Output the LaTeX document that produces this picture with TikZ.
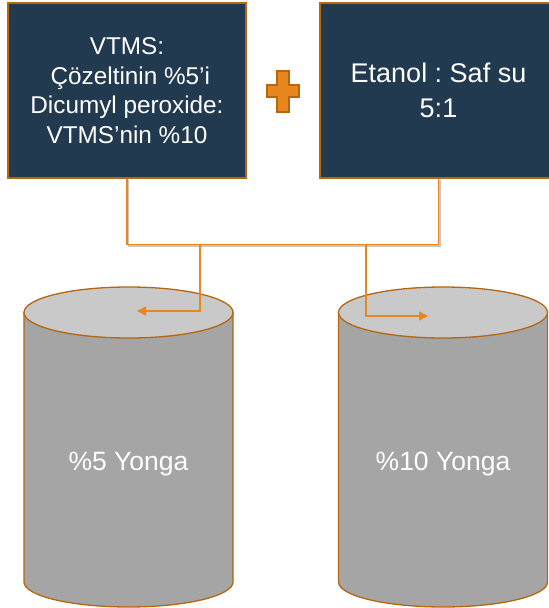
\documentclass[tikz,border=0pt]{standalone}
\usepackage{fontspec}
\setmainfont{Liberation Sans}
\usetikzlibrary{arrows.meta}
\definecolor{navy}{HTML}{213A4F}
\definecolor{rim}{HTML}{B5660F}
\definecolor{orng}{HTML}{E8871E}
\definecolor{lid}{HTML}{C9C9C9}
\definecolor{barrel}{HTML}{A5A5A5}
\definecolor{shade}{HTML}{CBC6C0}
\frenchspacing

\tikzset{
  panel/.style={draw=rim, line width=1.3pt, fill=navy, text=white,
    align=center, inner sep=0pt},
  feed/.style={draw=orng, line width=1.4pt},
  shadowed/.style={preaction={draw=shade, line width=1.4pt,
    transform canvas={shift={(1.3,1.3)}}}},
  tip/.style={-{Triangle[length=9pt,width=9pt]}},
  drumlabel/.style={text=white, font=\fontsize{26.5}{30}\selectfont},
}

\begin{document}
\begin{tikzpicture}[x=1pt, y=-1pt]
\useasboundingbox (0,0) rectangle (549,608);
\clip (0,0) rectangle (549,608);

% input panels
\node[panel, minimum width=238pt, minimum height=175pt,
      font=\fontsize{24.3}{29.5}\selectfont] (lbox) at (127,90.5)
  {VTMS:\\\mbox{}\ Çözeltinin \%5’i\\Dicumyl peroxide:\\VTMS’nin \%10};
\node[panel, minimum width=237pt, minimum height=175pt,
      font=\fontsize{27}{35}\selectfont] (rbox) at (438.5,90.5)
  {\raisebox{-2pt}{Etanol : Saf su}\\\raisebox{-2pt}{5:1}};

% plus sign between the panels
\filldraw[fill=orng, draw=rim, line width=1.2pt]
  (277,71) -- (289,71) -- (289,85) -- (299,85) -- (299,97) -- (289,97)
  -- (289,112) -- (277,112) -- (277,97) -- (267,97) -- (267,85)
  -- (277,85) -- cycle;

% storage drums
\foreach \cx/\nm/\txt in {128.5/ldrum/\%5 Yonga, 443/rdrum/\%10 Yonga}{
  \filldraw[fill=barrel, draw=rim, line width=1.3pt]
    (\cx-104.5,312.5) -- (\cx-104.5,582)
    arc[start angle=180, end angle=0, x radius=104.5, y radius=25]
    -- (\cx+104.5,312.5) -- cycle;
  \filldraw[fill=lid, draw=rim, line width=1.3pt]
    (\cx,312.5) ellipse[x radius=104.5, y radius=25.5];
  \node[drumlabel] (\nm) at (\cx,464) {\txt};
}

% mixing line joining both panels
\coordinate (lsplit) at (200,244);
\coordinate (rsplit) at (366,244);
\coordinate (lin) at (137,311);
\coordinate (rin) at (428,316);
\draw[feed, shadowed] (lbox.south) -- ++(0,66) -| (rbox.south);

% feeds into each drum
\draw[feed, tip] (lsplit) |- (lin);
\draw[feed, tip] (rsplit) |- (rin);
\end{tikzpicture}
\end{document}
